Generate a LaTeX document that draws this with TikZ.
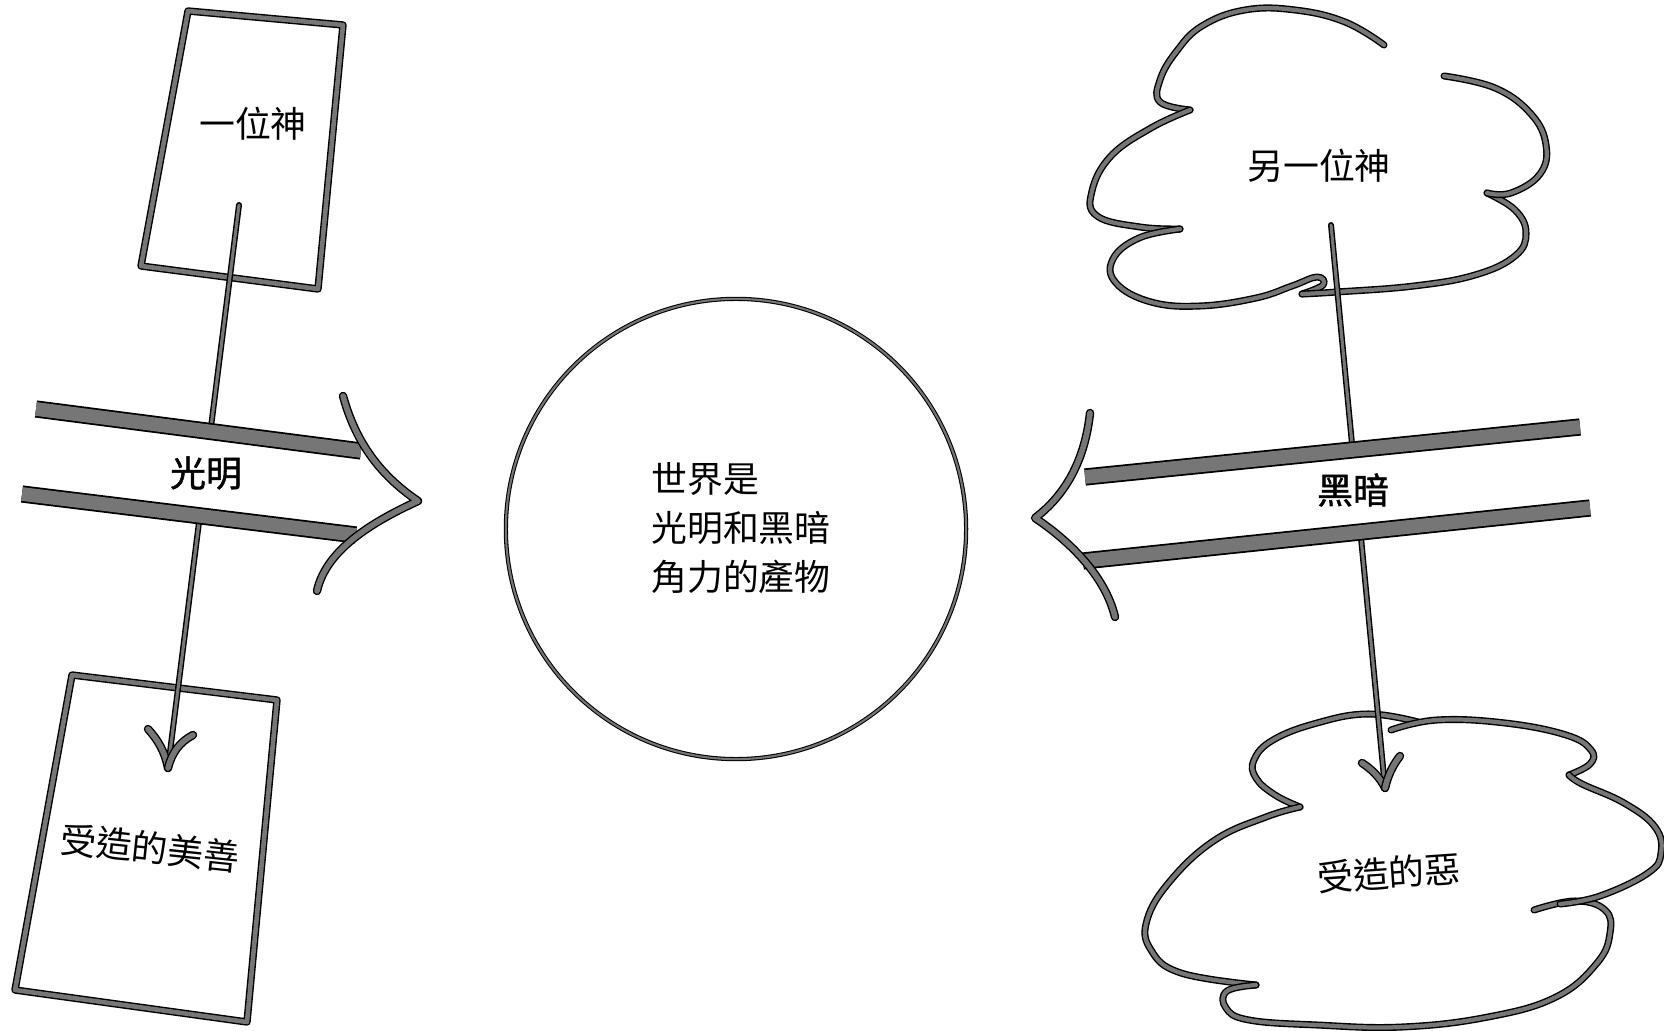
\documentclass[tikz,border=0pt]{standalone}
\usepackage{fontspec}
\setmainfont{Noto Sans CJK TC}
\newfontfamily\semibold[FakeBold=1.2]{Noto Sans CJK TC}
\definecolor{inkc}{RGB}{118,118,118}
\begin{document}
\begin{tikzpicture}[x=0.01cm,y=-0.01cm,
  inkbase/.style={draw=black, double=inkc, line cap=round, line join=round},
  boxline/.style={inkbase, line width=0.4pt, double distance=1.3pt},
  barline/.style={draw=black, double=inkc, line cap=butt, line width=0.5pt, double distance=3.9pt},
  headline/.style={inkbase, line width=0.4pt, double distance=1.6pt},
  conn/.style={inkbase, line width=0.4pt, double distance=0.9pt},
  tipline/.style={inkbase, line width=0.4pt, double distance=1.6pt},
  cloudline/.style={inkbase, line width=0.4pt, double distance=1.2pt},
  worldline/.style={draw=black, double=inkc, line width=0.3pt, double distance=0.6pt},
  lbl/.style={font=\fontsize{10.2}{13.9}\selectfont, inner sep=0pt},
  blbl/.style={font=\fontsize{10.2}{13.9}\semibold, inner sep=0pt},
]
\useasboundingbox (0,0) rectangle (1664,1031);

% ---------- boxes ----------
\draw[boxline] (188,11) -- (343,25) -- (318,289) -- (141,266) -- cycle;
\draw[boxline] (72,675) -- (277,700) -- (247,1022) -- (15,990) -- cycle;

% ---------- top cloud ----------
\draw[cloudline] plot[smooth, tension=0.7] coordinates {(1384,45) (1345,22) (1295,10) (1245,10) (1202,26) (1176,52) (1160,80) (1160,102) (1190,110)};
\draw[cloudline] plot[smooth, tension=0.7] coordinates {(1190,110) (1151,128) (1111,156) (1092,191) (1097,216) (1140,227) (1180,229)};
\draw[cloudline] plot[smooth, tension=0.7] coordinates {(1180,229) (1139,238) (1113,259) (1116,283) (1151,302) (1200,306) (1256,298) (1292,286) (1317,277) (1323,285) (1302,294)};
\draw[cloudline] plot[smooth, tension=0.7] coordinates {(1302,294) (1337,292) (1414,286) (1475,275) (1515,256) (1526,233) (1515,210) (1487,193)};
\draw[cloudline] plot[smooth, tension=0.7] coordinates {(1487,193) (1511,193) (1540,174) (1546,145) (1531,114) (1495,88) (1444,76)};

% ---------- bottom cloud ----------
\draw[cloudline] plot[smooth, tension=0.7] coordinates {(1418,722) (1368,714) (1317,723) (1273,740) (1254,760) (1256,778) (1275,795) (1300,807)};
\draw[cloudline] plot[smooth, tension=0.7] coordinates {(1300,807) (1266,817) (1215,840) (1171,880) (1147,920) (1151,950) (1181,973) (1256,985)};
\draw[cloudline] plot[smooth, tension=0.7] coordinates {(1256,985) (1227,991) (1226,1008) (1249,1020) (1317,1025) (1402,1027) (1488,1017) (1556,997) (1597,963) (1610,933) (1605,910) (1575,901) (1534,910)};
\draw[cloudline] plot[smooth, tension=0.7] coordinates {(1391,730) (1437,720) (1505,723) (1566,735) (1591,750) (1590,764) (1569,775)};
\draw[cloudline] plot[smooth, tension=0.7] coordinates {(1569,775) (1582,784) (1624,803) (1655,827) (1661,853) (1648,873) (1600,896) (1560,904)};

% ---------- world ----------
\node[worldline, circle, minimum size=4.6cm, inner sep=0pt] (world) at (736,529) {};
\node[lbl, align=left] (worldtxt) at (741,528) {世界是\\光明和黑暗\\角力的產物};

% ---------- labels ----------
\node[lbl] (god1) at (253,124) {一位神};
\node[lbl, rotate=-6] (good) at (150,848) {受造的美善};
\node[lbl] (god2) at (1319,166) {另一位神};
\node[lbl, rotate=4] (evil) at (1389,873) {受造的惡};

% ---------- connector coordinates ----------
\coordinate (c1s) at (239,205);
\coordinate (c1e) at (168,768);
\coordinate (c2s) at (1331,225);
\coordinate (c2e) at (1385,788);

\draw[conn] (c1s) -- (c1e);
\draw[conn] (c2s) -- (c2e);

% ---------- light arrow ----------
\fill[white] (36,409) -- (360,450) -- (418,501) -- (355,535) -- (22,494) -- cycle;
\draw[barline] (36,409) -- (361,451);
\draw[barline] (22,494) -- (356,535);
\draw[headline] (343,396) .. controls (353,432) and (372,470) .. (418,501) .. controls (372,522) and (326,550) .. (317,591);
\node[blbl] (light) at (206,473) {光明};

% ---------- dark arrow ----------
\fill[white] (1580,427) -- (1088,477) -- (1035,518) -- (1085,561) -- (1590,508) -- cycle;
\draw[barline] (1580,427) -- (1085,477);
\draw[barline] (1590,508) -- (1083,561);
\draw[headline] (1090,413) .. controls (1086,450) and (1072,490) .. (1035,518) .. controls (1068,540) and (1105,575) .. (1115,617);
\node[blbl] (dark) at (1353,490) {黑暗};

% ---------- arrow tips ----------
\draw[tipline] (148,729) .. controls (158,740) and (165,752) .. (c1e);
\draw[tipline] (193,735) .. controls (180,742) and (172,752) .. (c1e);
\draw[tipline] (1362,763) .. controls (1370,768) and (1380,777) .. (c2e);
\draw[tipline] (1400,756) .. controls (1393,765) and (1388,775) .. (c2e);
\end{tikzpicture}
\end{document}
